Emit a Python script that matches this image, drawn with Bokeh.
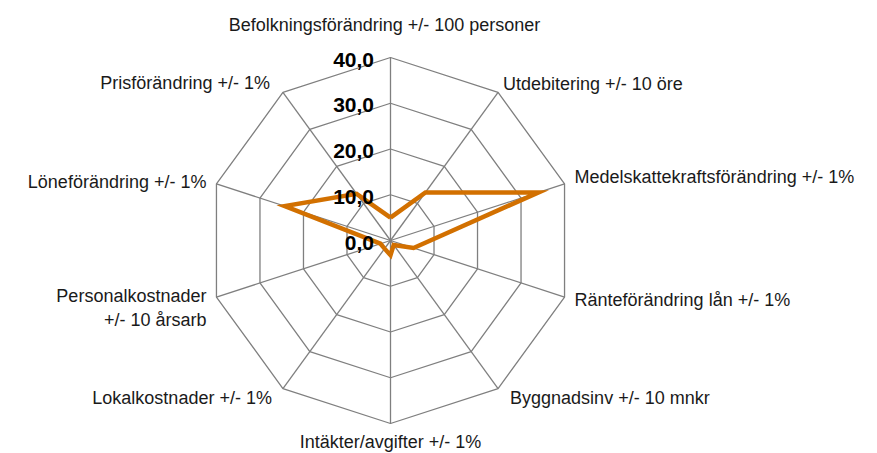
import math
from bokeh.plotting import figure
from bokeh.models import Range1d
from bokeh.core.properties import value
from bokeh.embed import file_html
from bokeh.resources import INLINE

categories = [
    "Befolkningsförändring +/- 100 personer",
    "Utdebitering +/- 10 öre",
    "Medelskattekraftsförändring +/- 1%",
    "Ränteförändring lån +/- 1%",
    "Byggnadsinv +/- 10 mnkr",
    "Intäkter/avgifter +/- 1%",
    "Lokalkostnader +/- 1%",
    "Personalkostnader\n+/- 10 årsarb",
    "Löneförändring +/- 1%",
    "Prisförändring +/- 1%",
]
values = [5.0, 13.0, 34.0, 5.3, 1.2, 3.2, 2.2, 2.3, 24.3, 12.6]
rings = [10, 20, 30, 40]
ring_labels = ["0,0", "10,0", "20,0", "30,0", "40,0"]
ring_label_values = [0, 10, 20, 30, 40]

W, H = 877, 453
scale = 183.0 / 40.0  # px per unit
cx_px, cy_px = 390.0, 240.0
p = figure(width=W, height=H, output_backend="svg", toolbar_location=None,
           x_range=Range1d(-cx_px / scale, (W - cx_px) / scale),
           y_range=Range1d(-(H - cy_px) / scale, cy_px / scale),
           min_border=0)
p.axis.visible = False
p.grid.visible = False
p.outline_line_color = None
p.background_fill_color = "white"
p.border_fill_color = "white"

n = len(categories)
angles = [math.pi / 2 - 2 * math.pi * i / n for i in range(n)]

grid_color = "#7f7f7f"
for r in rings:
    xs = [r * math.cos(a) for a in angles] + [r * math.cos(angles[0])]
    ys = [r * math.sin(a) for a in angles] + [r * math.sin(angles[0])]
    p.line(xs, ys, line_color=grid_color, line_width=1.3)
for a in angles:
    p.line([0, 40 * math.cos(a)], [0, 40 * math.sin(a)], line_color=grid_color, line_width=1.3)

dx = [v * math.cos(a) for v, a in zip(values, angles)]
dy = [v * math.sin(a) for v, a in zip(values, angles)]
p.line(dx + [dx[0]], dy + [dy[0]], line_color="#D27000", line_width=4.5, line_join="miter")

# ring labels
p.text(x=[-3.6] * len(ring_label_values), y=ring_label_values, text=ring_labels,
       text_align="right", text_baseline="middle", y_offset=2,
       text_font=value("Liberation Sans"), text_font_style="bold",
       text_font_size="21px", text_color="black")

# category labels
lab_cfg = [
    ("center", "middle", -6, -33),
    ("left", "middle", 5, -8),
    ("left", "middle", 10, -7),
    ("left", "middle", 10, 3),
    ("left", "middle", 12, 9),
    ("center", "middle", 0, 18),
    ("right", "middle", -11, 9),
    ("right", "middle", -10, 11),
    ("right", "middle", -10, -2),
    ("right", "middle", -13, -9),
]
for cat, a, (al, bl, ox, oy) in zip(categories, angles, lab_cfg):
    lines = cat.split("\n")
    for k, ln in enumerate(lines):
        yo = oy + (k - (len(lines) - 1) / 2) * 24
        p.text(x=[40 * math.cos(a)], y=[40 * math.sin(a)], text=[ln],
               text_align=al, text_baseline=bl, x_offset=ox, y_offset=yo,
               text_font=value("Liberation Sans"), text_font_size="18px",
               text_color="#1a1a1a")

open("out.html", "w").write(file_html(p, INLINE))
